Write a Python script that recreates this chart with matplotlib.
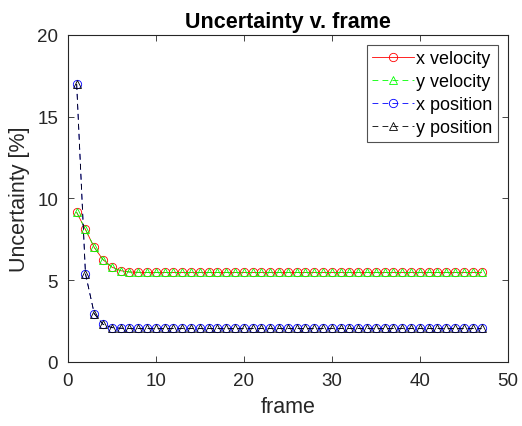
import numpy as np
import matplotlib
matplotlib.use('Agg')
import matplotlib.pyplot as plt

plt.rcParams['font.family'] = ['Liberation Sans', 'DejaVu Sans']
plt.rcParams['font.size'] = 13

frame = list(range(1, 48))

# velocity uncertainty (x and y nearly identical)
vel = [9.15, 8.1, 7.0, 6.25, 5.8, 5.58, 5.5, 5.48] + [5.47] * 39
# position uncertainty (x and y nearly identical)
pos = [17.0, 5.4, 2.95, 2.3, 2.1, 2.06, 2.05] + [2.05] * 40

x_vel = vel
y_vel = vel
x_pos = pos
y_pos = pos

fig = plt.figure(figsize=(5.22, 4.27), dpi=100)
ax = fig.add_axes([0.130, 0.150, 0.843, 0.766])

ms = 6
lw = 0.6
ax.plot(frame, x_vel, '-', color='r', marker='o', mfc='none', ms=ms, mew=0.6, lw=lw,
        label='x velocity')
ax.plot(frame, y_vel, '--', color=(0, 1, 0), marker='^', mfc='none', ms=ms, mew=0.6, lw=lw,
        dashes=(7, 5), label='y velocity')
ax.plot(frame, x_pos, '--', color='b', marker='o', mfc='none', ms=ms, mew=0.6, lw=lw,
        dashes=(7, 5), label='x position')
ax.plot(frame, y_pos, '--', color='k', marker='^', mfc='none', ms=ms, mew=0.6, lw=lw,
        dashes=(7, 5), label='y position')

ax.set_xlim(0, 50)
ax.set_ylim(0, 20)
ax.set_xticks([0, 10, 20, 30, 40, 50])
ax.set_yticks([0, 5, 10, 15, 20])
ax.tick_params(direction='in', top=True, right=True, length=4, width=0.6,
               colors='#262626', labelsize=13.5, pad=7)
for s in ax.spines.values():
    s.set_linewidth(0.8)
    s.set_color('#262626')

ax.set_xlabel('frame', fontsize=15.5, color='#262626', labelpad=5)
ax.set_ylabel('Uncertainty [%]', fontsize=15.5, color='#262626', labelpad=5)
ax.set_title('Uncertainty v. frame', fontsize=15.5, fontweight='bold', pad=6)

leg = ax.legend(loc='upper right', fontsize=13, handlelength=2.3, handletextpad=0.15,
                borderpad=0.3, labelspacing=0.33, fancybox=False, borderaxespad=0.55)
leg.get_frame().set_edgecolor('#262626')
leg.get_frame().set_linewidth(0.8)

fig.savefig('out.png', dpi=100)
